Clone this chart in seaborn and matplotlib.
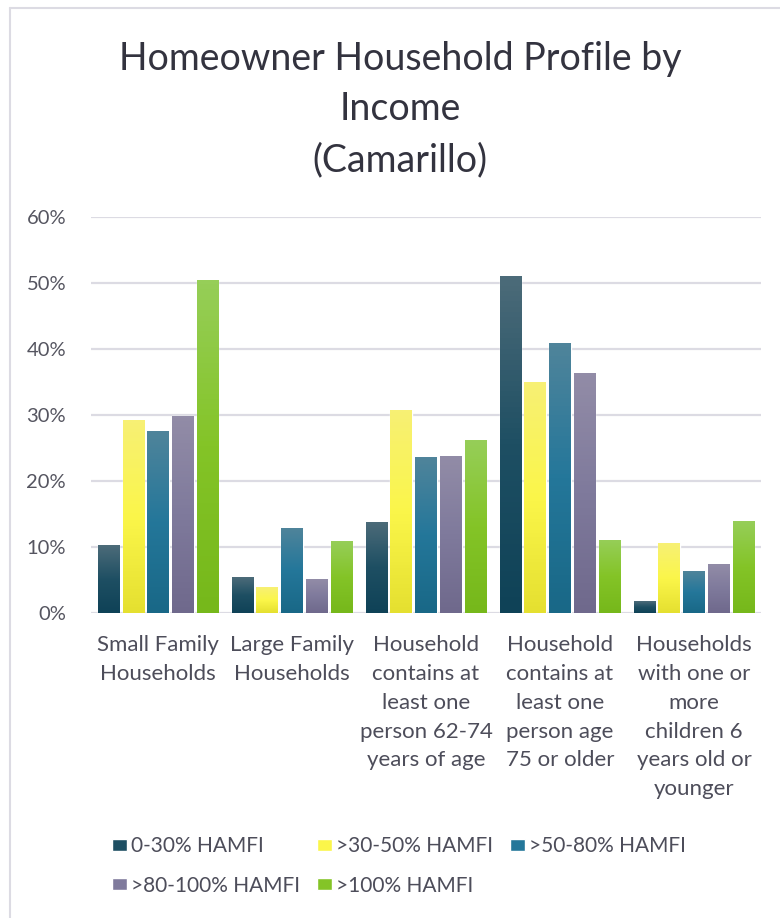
import matplotlib
matplotlib.use("Agg")
import matplotlib.pyplot as plt
import matplotlib.colors as mcolors
from matplotlib.lines import Line2D
from matplotlib.ticker import PercentFormatter
import numpy as np
import pandas as pd
import seaborn as sns

categories = ["Small Family\nHouseholds",
              "Large Family\nHouseholds",
              "Household\ncontains at\nleast one\nperson 62-74\nyears of age",
              "Household\ncontains at\nleast one\nperson age\n75 or older",
              "Households\nwith one or\nmore\nchildren 6\nyears old or\nyounger"]
series = ["0-30% HAMFI", ">30-50% HAMFI", ">50-80% HAMFI",
          ">80-100% HAMFI", ">100% HAMFI"]
hamfi_0_30 = [10.3, 5.4, 13.8, 51.1, 1.8]
hamfi_30_50 = [29.2, 3.9, 30.8, 35.0, 10.6]
hamfi_50_80 = [27.6, 12.9, 23.6, 40.9, 6.3]
hamfi_80_100 = [29.9, 5.1, 23.8, 36.4, 7.4]
hamfi_100 = [50.5, 10.9, 26.2, 11.1, 13.9]

# gradient stops (top, middle, bottom) for each series
gradients = {
    "0-30% HAMFI": ["#4c6b79", "#1e4f63", "#0f4257"],
    ">30-50% HAMFI": ["#f7f074", "#fbf64a", "#e5e030"],
    ">50-80% HAMFI": ["#4f849b", "#24779a", "#196887"],
    ">80-100% HAMFI": ["#928ca7", "#7f7a9c", "#6f698c"],
    ">100% HAMFI": ["#96ce58", "#84c427", "#76b81b"],
}

values = [hamfi_0_30, hamfi_30_50, hamfi_50_80, hamfi_80_100, hamfi_100]
rows = []
for name, vals in zip(series, values):
    for cat, v in zip(categories, vals):
        rows.append({"category": cat, "income": name, "share": v})
df = pd.DataFrame(rows)

sns.set_theme(style="white")
plt.rcParams["font.family"] = ["Lato", "DejaVu Sans"]

fig = plt.figure(figsize=(7.8, 9.18), dpi=100)
ax = fig.add_axes([0.1167, 0.3322, 0.8589, 0.4314])

palette = {k: v[1] for k, v in gradients.items()}
sns.barplot(data=df, x="category", y="share", hue="income",
            hue_order=series, order=categories, palette=palette,
            width=0.93, gap=0.15, ax=ax, legend=True, saturation=1)

ax.set_ylim(0, 60)
ax.set_xlim(-0.5, len(categories) - 0.5)
ax.set_yticks(range(0, 61, 10))
ax.yaxis.set_major_formatter(PercentFormatter(decimals=0))
ax.yaxis.grid(True, color="#dcdbe3", linewidth=1.6)
ax.set_axisbelow(True)
for s in ax.spines.values():
    s.set_visible(False)
ax.set_xlabel("")
ax.set_ylabel("")
ax.tick_params(axis="y", labelsize=14.5, colors="#555560", pad=18, length=0)
ax.tick_params(axis="x", colors="#4d4d5a", pad=16, length=0)
ax.set_xticks(range(len(categories)))
ax.set_xticklabels(categories, fontsize=16, linespacing=1.55, va="top")

# gradient fill inside each bar
for cont, name in zip(ax.containers, series):
    cmap = mcolors.LinearSegmentedColormap.from_list(name, gradients[name][::-1])
    grad = np.linspace(0, 1, 64).reshape(-1, 1)
    for bar in cont:
        x0, y0 = bar.get_x(), bar.get_y()
        w, h = bar.get_width(), bar.get_height()
        im = ax.imshow(grad, cmap=cmap, origin="lower", aspect="auto",
                       extent=[x0, x0 + w, y0, y0 + h], zorder=bar.get_zorder())
        im.set_clip_path(bar)
ax.set_xlim(-0.5, len(categories) - 0.5)
ax.set_ylim(0, 60)

# legend filled row by row like the original
handles, labels = ax.get_legend_handles_labels()
ax.get_legend().remove()
order = [0, 3, 1, 4, 2]
leg = fig.legend([handles[i] for i in order], [labels[i] for i in order],
                 loc="upper left", bbox_to_anchor=(112 / 780, 1 - 836 / 918),
                 ncol=3, frameon=False, fontsize=15, handlelength=0.72,
                 handleheight=0.5, handletextpad=0.2, columnspacing=0.8,
                 labelspacing=0.95, borderpad=0, borderaxespad=0)
for t in leg.get_texts():
    t.set_color("#4d4d5a")

fig.text(0.513, 1 - 41 / 918, "Homeowner Household Profile by\nIncome\n(Camarillo)",
         ha="center", va="top", fontsize=27, color="#33333f", linespacing=1.5)

# chart area border (left and top visible)
fig.add_artist(Line2D([10 / 780, 10 / 780], [0, 1 - 8 / 918],
                      transform=fig.transFigure, color="#dcdbe3", linewidth=1.5))
fig.add_artist(Line2D([10 / 780, 1], [1 - 8 / 918, 1 - 8 / 918],
                      transform=fig.transFigure, color="#dcdbe3", linewidth=1.5))

fig.savefig("out.png", dpi=100, facecolor="white")
